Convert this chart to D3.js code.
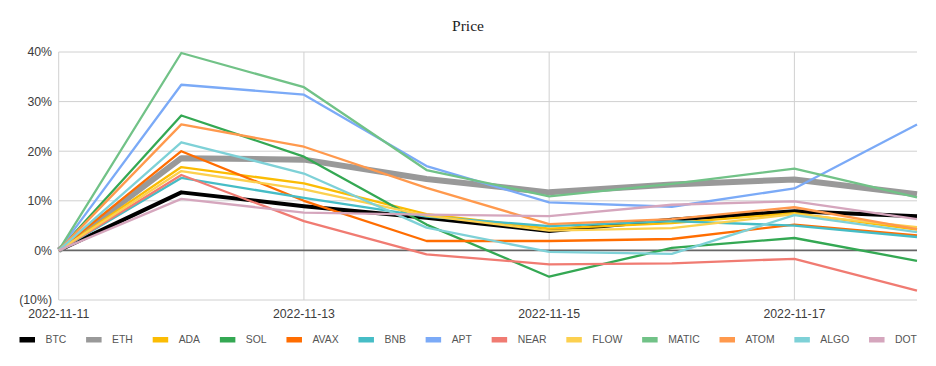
<!DOCTYPE html>
<meta charset="utf-8">
<style>
    body { margin: 0; background: #fff; }
    .chart text { font-family: Arial, "Liberation Sans", sans-serif; }
    .axis-label { font-size: 12.3px; fill: #3c3c3c; }
    .legend text { font-size: 10.4px; fill: #555; }
    .chart .title { font-family: "Liberation Serif", "DejaVu Serif", serif; font-size: 15.5px; fill: #222; }
</style>
<svg class="chart" width="936" height="366"></svg>
<script src="https://cdn.jsdelivr.net/npm/d3@7"></script>
<script>
    var dates = ["2022-11-11", "2022-11-12", "2022-11-13", "2022-11-14", "2022-11-15", "2022-11-16", "2022-11-17", "2022-11-18"];
    var tickDates = ["2022-11-11", "2022-11-13", "2022-11-15", "2022-11-17"];
    var yTicks = [-10, 0, 10, 20, 30, 40];

    var coins = ["BTC", "ETH", "ADA", "SOL", "AVAX", "BNB", "APT", "NEAR", "FLOW", "MATIC", "ATOM", "ALGO", "DOT"];
    var colors = ["#000000", "#999999", "#fbbc04", "#34a853", "#ff6d01", "#46bdc6", "#7baaf7", "#f07b72", "#fcd04f", "#71c287", "#ff994d", "#7ed1d7", "#d5a6bd"];

    // % change vs 2022-11-11
    var btc = [0, 11.7, 8.9, 6.6, 3.9, 6.2, 7.9, 6.9];
    var eth = [0, 18.6, 18.3, 14.4, 11.7, 13.3, 14.3, 11.3];
    var ada = [0, 16.8, 13.5, 7.3, 4.4, 5.5, 7.5, 4.2];
    var sol = [0, 27.2, 18.9, 5.2, -5.3, 0.5, 2.5, -2.1];
    var avax = [0, 20, 10, 1.9, 1.9, 2.3, 5.2, 3];
    var bnb = [0, 14.6, 10.6, 6.8, 4.9, 5.9, 5, 2.7];
    var apt = [0, 33.4, 31.4, 17, 9.7, 8.8, 12.5, 25.4];
    var near = [0, 15.2, 5.9, -0.8, -2.8, -2.6, -1.7, -8.1];
    var flow = [0, 16, 12.3, 7.0, 4.0, 4.5, 7.3, 4.7];
    var matic = [0, 39.8, 32.9, 16.2, 10.9, 13.4, 16.5, 10.7];
    var atom = [0, 25.4, 20.9, 12.6, 5.3, 6.3, 8.7, 4.3];
    var algo = [0, 21.8, 15.5, 4.6, -0.3, -0.7, 7.1, 3.7];
    var dot = [0, 10.4, 7.6, 7.2, 6.9, 9.2, 9.9, 6.3];

    var values = [btc, eth, ada, sol, avax, bnb, apt, near, flow, matic, atom, algo, dot];
    var widths = [4, 6, 2.3, 2.3, 2.3, 2.3, 2.3, 2.3, 2.3, 2.3, 2.3, 2.3, 2.3];

    var plotLeft = 58.7, plotRight = 917, plotTop = 52, plotBottom = 300;

    var svg = d3.select(".chart");

    var x = d3.scalePoint().domain(dates).range([plotLeft, plotRight]);
    var y = d3.scaleLinear().domain([-10, 40]).range([plotBottom, plotTop]);

    svg.append("text")
        .attr("class", "title")
        .attr("x", 468)
        .attr("y", 31)
        .attr("text-anchor", "middle")
        .text("Price");

    // grid
    svg.append("g").selectAll("line")
        .data(yTicks.filter(function (d) { return d !== 0; }))
        .enter().append("line")
        .attr("x1", plotLeft).attr("x2", plotRight)
        .attr("y1", function (d) { return y(d); })
        .attr("y2", function (d) { return y(d); })
        .attr("stroke", "#d0d0d0").attr("stroke-width", 1);

    svg.append("g").selectAll("line")
        .data(tickDates)
        .enter().append("line")
        .attr("x1", function (d) { return x(d); })
        .attr("x2", function (d) { return x(d); })
        .attr("y1", plotTop).attr("y2", plotBottom)
        .attr("stroke", "#d0d0d0").attr("stroke-width", 1);

    svg.append("line")
        .attr("x1", plotLeft).attr("x2", plotRight)
        .attr("y1", y(0)).attr("y2", y(0))
        .attr("stroke", "#666").attr("stroke-width", 1.8);

    // axes labels
    var fmt = function (d) { return d < 0 ? "(" + (-d) + "%)" : d + "%"; };
    svg.append("g").selectAll("text")
        .data(yTicks)
        .enter().append("text")
        .attr("class", "axis-label")
        .attr("x", 52)
        .attr("y", function (d) { return y(d); })
        .attr("dy", "0.35em")
        .attr("text-anchor", "end")
        .text(fmt);

    svg.append("g").selectAll("text")
        .data(tickDates)
        .enter().append("text")
        .attr("class", "axis-label")
        .attr("x", function (d) { return x(d); })
        .attr("y", 318)
        .attr("text-anchor", "middle")
        .text(function (d) { return d; });

    // lines
    var line = d3.line()
        .x(function (d, i) { return x(dates[i]); })
        .y(function (d) { return y(d); });

    svg.append("g").selectAll("path")
        .data(values)
        .enter().append("path")
        .attr("d", line)
        .attr("fill", "none")
        .attr("stroke", function (d, i) { return colors[i]; })
        .attr("stroke-width", function (d, i) { return widths[i]; })
        .attr("stroke-linejoin", "round");

    // legend
    var legend = svg.append("g").attr("class", "legend");
    var lx = 19.5;
    coins.forEach(function (c, i) {
        legend.append("rect")
            .attr("x", lx).attr("y", 337)
            .attr("width", 15.5).attr("height", 5.5)
            .attr("fill", colors[i]);
        var t = legend.append("text")
            .attr("x", lx + 26)
            .attr("y", 343.2)
            .text(c);
        lx += 26 + t.node().getComputedTextLength() + 19.8;
    });
</script>
